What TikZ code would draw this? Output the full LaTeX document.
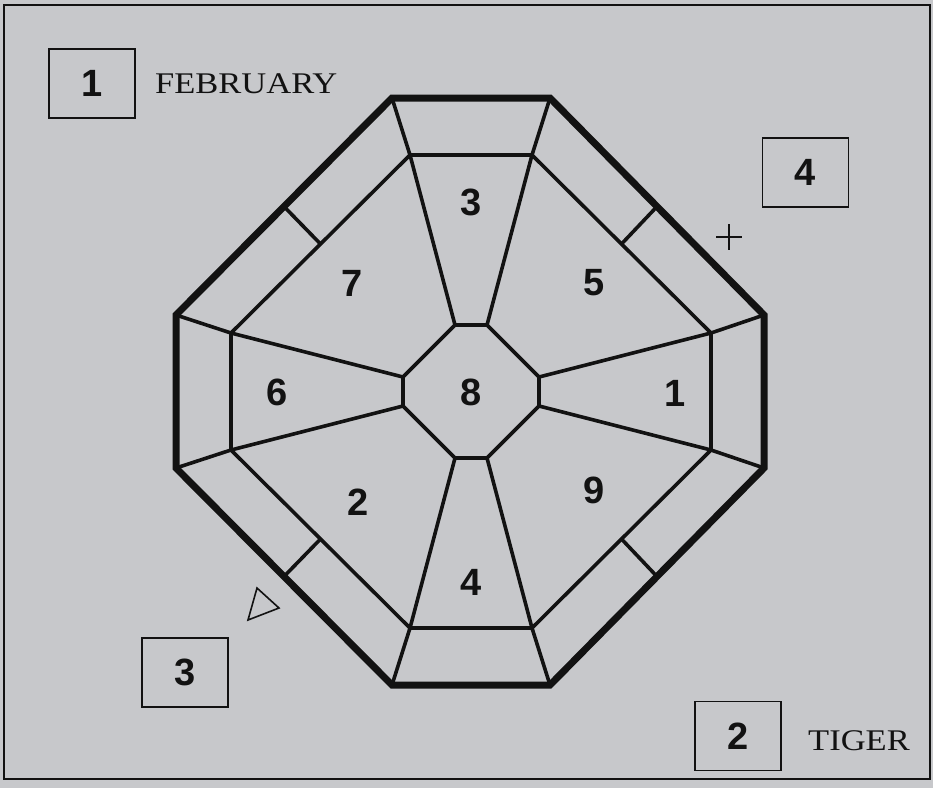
\documentclass[tikz,border=0pt]{standalone}
\usepackage{fontspec}
\setmainfont{Liberation Serif}
\setsansfont{Liberation Sans}
\usetikzlibrary{calc}
\definecolor{bg}{RGB}{199,200,203}
\definecolor{ink}{RGB}{18,18,18}
\begin{document}
\begin{tikzpicture}[x=1pt,y=-1pt,
  outerline/.style={draw=ink,line width=7pt,line join=miter},
  innerline/.style={draw=ink,line width=3.6pt,line join=miter},
  thinline/.style={draw=ink,line width=1.6pt},
  digit/.style={font=\sffamily\bfseries\fontsize{38}{38}\selectfont,text=ink,inner sep=0pt},
  numbox/.style={draw=ink,line width=1.7pt,minimum width=86pt,minimum height=69pt,inner sep=0pt,font=\sffamily\bfseries\fontsize{38}{38}\selectfont,text=ink},
  word/.style={font=\fontsize{30}{30}\selectfont,text=ink,inner sep=0pt,anchor=base west}]
\fill[bg] (0,0) rectangle (933,788);
\useasboundingbox (0,0) rectangle (933,788);
\draw[draw=ink,line width=2.8pt] (4,5) rectangle (930,779);
% outer octagon
\coordinate (O1) at (392,98);  \coordinate (O2) at (550,98);
\coordinate (O3) at (764,315); \coordinate (O4) at (764,468);
\coordinate (O5) at (550,685); \coordinate (O6) at (392,685);
\coordinate (O7) at (176,468); \coordinate (O8) at (176,315);
% inner ring
\coordinate (I1) at (410,155); \coordinate (I2) at (532,155);
\coordinate (I3) at (711,333); \coordinate (I4) at (711,450);
\coordinate (I5) at (532,628); \coordinate (I6) at (410,628);
\coordinate (I7) at (231,450); \coordinate (I8) at (231,333);
% centre octagon
\coordinate (C1) at (455,325); \coordinate (C2) at (487,325);
\coordinate (C3) at (539,377); \coordinate (C4) at (539,406);
\coordinate (C5) at (487,458); \coordinate (C6) at (455,458);
\coordinate (C7) at (403,406); \coordinate (C8) at (403,377);
% spokes
\foreach \k in {1,...,8} {\draw[innerline] (C\k) -- (I\k) -- (O\k);}
\draw[innerline] (I1)--(I2)--(I3)--(I4)--(I5)--(I6)--(I7)--(I8)--cycle;
\draw[innerline] (C1)--(C2)--(C3)--(C4)--(C5)--(C6)--(C7)--(C8)--cycle;
% ticks in band
\draw[innerline] ($(O8)!0.5!(O1)$) -- ($(I8)!0.5!(I1)$);
\draw[innerline] ($(O2)!0.5!(O3)$) -- ($(I2)!0.5!(I3)$);
\draw[innerline] ($(O4)!0.5!(O5)$) -- ($(I4)!0.5!(I5)$);
\draw[innerline] ($(O6)!0.5!(O7)$) -- ($(I6)!0.5!(I7)$);
\draw[outerline] (O1)--(O2)--(O3)--(O4)--(O5)--(O6)--(O7)--(O8)--cycle;
% sector numbers
\node[digit] (n3) at (471,202) {3};
\node[digit] (n7) at (352,283) {7};
\node[digit] (n5) at (594,283) {5};
\node[digit] (n6) at (277,392) {6};
\node[digit] (n8) at (471,392) {8};
\node[digit] (n1) at (675,393) {1};
\node[digit] (n2) at (358,502) {2};
\node[digit] (n9) at (594,490) {9};
\node[digit] (n4) at (471,582) {4};
% corner boxes
\node[numbox] (b1) at (92,83.5) {1};
\node[numbox] (b4) at (805.5,172.5) {4};
\node[numbox] (b3) at (185,672.5) {3};
\node[numbox] (b2) at (738,736) {2};
\node[word] (feb) at (155,93) {\scalebox{1.15}[1]{FEBRUARY}};
\node[word] (tiger) at (808,750) {\scalebox{1.15}[1]{TIGER}};
% small marks
\coordinate (plus) at (729,237);
\draw[thinline] ($(plus)+(-13,0)$) -- ($(plus)+(13,0)$);
\draw[thinline] ($(plus)+(0,-13)$) -- ($(plus)+(0,13)$);
\coordinate (t1) at (257,588); \coordinate (t2) at (248,620); \coordinate (t3) at (279,608);
\draw[thinline,line join=miter] (t1)--(t2)--(t3)--cycle;
\end{tikzpicture}
\end{document}
